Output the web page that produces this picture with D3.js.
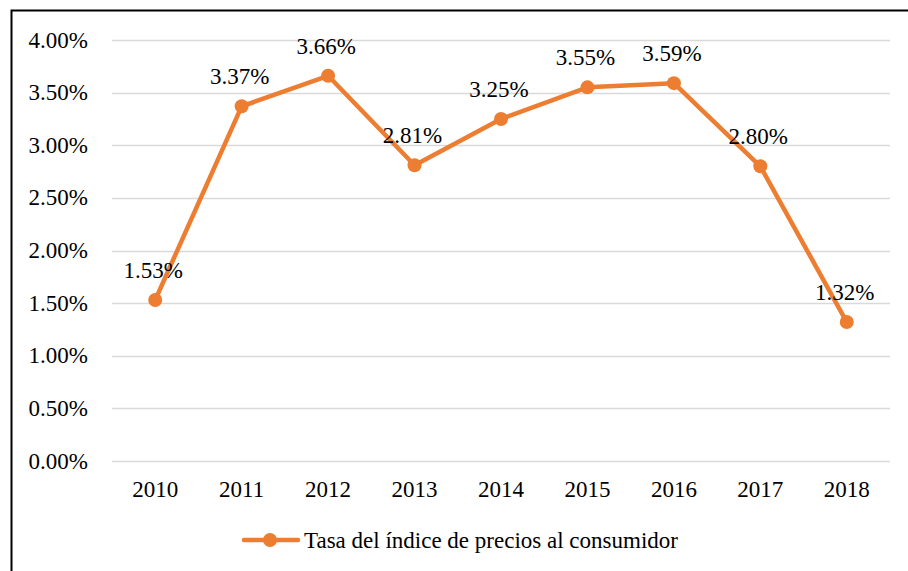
<!DOCTYPE html>
<html>
<head>
<meta charset="utf-8">
<script src="https://cdn.jsdelivr.net/npm/d3@7"></script>
<style>
  body { margin: 0; background: #fff; }
  svg text { font-family: "Liberation Serif", "Times New Roman", serif; }
</style>
</head>
<body>
<div id="chart"></div>
<script>
var years = ["2010", "2011", "2012", "2013", "2014", "2015", "2016", "2017", "2018"];
var rates = [1.53, 3.37, 3.66, 2.81, 3.25, 3.55, 3.59, 2.80, 1.32];
var yTicks = [0, 0.5, 1, 1.5, 2, 2.5, 3, 3.5, 4];
var seriesName = "Tasa del índice de precios al consumidor";

var width = 908,
    height = 571;
var orange = "#ED7D31";
var fontSize = 23;

var svg = d3.select("#chart")
    .append("svg")
    .attr("width", width)
    .attr("height", height)
    .attr("fill", "#000");

// outer frame (cut off at right and bottom)
svg.append("rect")
    .attr("x", 11.5)
    .attr("y", 10.5)
    .attr("width", 910)
    .attr("height", 600)
    .attr("fill", "none")
    .attr("stroke", "#000")
    .attr("stroke-width", 2);

var x = d3.scaleBand()
    .domain(years)
    .range([112, 890]);

var y = d3.scaleLinear()
    .domain([0, 4])
    .range([461, 40]);

// gridlines
svg.append("g")
    .selectAll("line")
    .data(yTicks)
    .enter()
    .append("line")
    .attr("x1", 112)
    .attr("x2", 890)
    .attr("y1", function (d) { return Math.round(y(d)) + 0.5; })
    .attr("y2", function (d) { return Math.round(y(d)) + 0.5; })
    .attr("stroke", "#d9d9d9")
    .attr("stroke-width", 1.5);

// y tick labels
svg.append("g")
    .selectAll("text")
    .data(yTicks)
    .enter()
    .append("text")
    .attr("x", 88)
    .attr("y", function (d) { return y(d) + 7.5; })
    .attr("text-anchor", "end")
    .attr("font-size", fontSize)
    .text(function (d) { return d.toFixed(2) + "%"; });

// x tick labels
svg.append("g")
    .selectAll("text")
    .data(years)
    .enter()
    .append("text")
    .attr("x", function (d) { return x(d) + x.bandwidth() / 2; })
    .attr("y", 497)
    .attr("text-anchor", "middle")
    .attr("font-size", fontSize)
    .text(function (d) { return d; });

var cx = function (d, i) { return x(years[i]) + x.bandwidth() / 2; };

var line = d3.line()
    .x(cx)
    .y(function (d) { return y(d); });

svg.append("path")
    .datum(rates)
    .attr("d", line)
    .attr("fill", "none")
    .attr("stroke", orange)
    .attr("stroke-width", 4.5)
    .attr("stroke-linejoin", "round");

svg.append("g")
    .selectAll("circle")
    .data(rates)
    .enter()
    .append("circle")
    .attr("cx", cx)
    .attr("cy", function (d) { return y(d); })
    .attr("r", 7)
    .attr("fill", orange);

// data labels
svg.append("g")
    .selectAll("text")
    .data(rates)
    .enter()
    .append("text")
    .attr("x", function (d, i) { return cx(d, i) - 2; })
    .attr("y", function (d) { return y(d) - 22; })
    .attr("text-anchor", "middle")
    .attr("font-size", fontSize)
    .text(function (d) { return d.toFixed(2) + "%"; });

// legend
var legend = svg.append("g");
legend.append("line")
    .attr("x1", 244)
    .attr("x2", 298)
    .attr("y1", 540)
    .attr("y2", 540)
    .attr("stroke", orange)
    .attr("stroke-width", 4.5)
    .attr("stroke-linecap", "round");
legend.append("circle")
    .attr("cx", 270)
    .attr("cy", 540)
    .attr("r", 7)
    .attr("fill", orange);
legend.append("text")
    .attr("x", 304)
    .attr("y", 548)
    .attr("font-size", fontSize)
    .text(seriesName);
</script>
</body>
</html>
